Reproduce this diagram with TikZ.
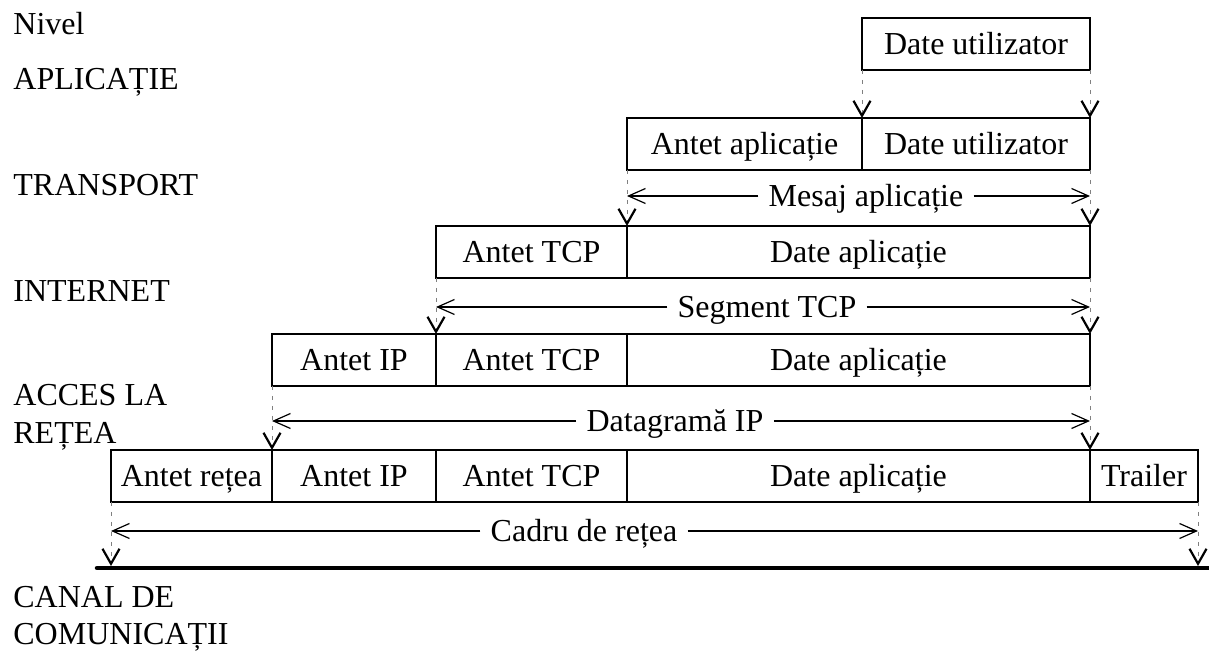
\documentclass[tikz,border=0pt]{standalone}
\usepackage{fontspec}
\setmainfont{Liberation Serif}
\usetikzlibrary{arrows.meta,positioning}

\begin{document}
\begin{tikzpicture}[x=0.5pt,y=-0.5pt,font=\fontsize{16pt}{19pt}\selectfont,
  cell/.style={draw,line width=0.65pt,minimum height=26pt,inner sep=0pt,outer sep=0pt,text height=10.6pt,text depth=0pt},
  thickcell/.style={cell,line width=1.25pt},
  lvltxt/.style={anchor=base west,inner sep=0pt},
  spanlbl/.style={inner xsep=5pt,inner ysep=0pt,text height=10.6pt,text depth=0pt},
  spanarrow/.style={line width=0.6pt,-{Straight Barb[length=8.5pt,width=7.5pt]}},
  guide/.style={gray,line width=0.4pt,dash pattern=on 2pt off 3pt,-{Straight Barb[color=black,line width=1.1pt,length=7.5pt,width=8.5pt]}}]
  \useasboundingbox (0,0) rectangle (1209,656);
  % level names
  \node[lvltxt] (nivel) at (13,35) {Nivel};
  \node[lvltxt] (aplic) at (13,90) {APLICAȚIE};
  \node[lvltxt] (transp) at (13,196) {TRANSPORT};
  \node[lvltxt] (inet) at (13,302) {INTERNET};
  \node[lvltxt] (acces) at (13,406) {ACCES LA};
  \node[lvltxt] (retea) at (13,444) {REȚEA};
  \node[lvltxt] (canal) at (13,608) {CANAL DE};
  \node[lvltxt] (comun) at (13,645) {COMUNICAȚII};
  % packets
  \node[thickcell,minimum width=114pt,anchor=north west] (usr) at (862,18) {Date utilizator};
  \node[cell,minimum width=117.5pt,anchor=north west] (apH) at (627,118) {Antet aplicație};
  \node[thickcell,minimum width=114pt,right=0pt of apH] (apD) {Date utilizator};
  \node[cell,minimum width=95.5pt,anchor=north west] (tcpH) at (436,226) {Antet TCP};
  \node[cell,minimum width=231.5pt,right=0pt of tcpH] (tcpD) {Date aplicație};
  \node[cell,minimum width=82pt,anchor=north west] (ipH) at (272,334) {Antet IP};
  \node[cell,minimum width=95.5pt,right=0pt of ipH] (ipTcp) {Antet TCP};
  \node[cell,minimum width=231.5pt,right=0pt of ipTcp] (ipD) {Date aplicație};
  \node[cell,minimum width=80.5pt,anchor=north west] (netH) at (111,450) {Antet rețea};
  \node[cell,minimum width=82pt,right=0pt of netH] (netIp) {Antet IP};
  \node[cell,minimum width=95.5pt,right=0pt of netIp] (netTcp) {Antet TCP};
  \node[cell,minimum width=231.5pt,right=0pt of netTcp] (netD) {Date aplicație};
  \node[cell,minimum width=54pt,right=0pt of netD] (netT) {Trailer};
  % channel
  \coordinate (chA) at (97,568);
  \coordinate (chB) at (1209,568);
  \coordinate (chL) at (111,566);
  \coordinate (chR) at (1198,566);
  \draw[line width=2.25pt,line cap=round] (chA) -- (chB);
  % spans
  \coordinate (ms1) at (627,196);  \coordinate (ms2) at (1090,196);
  \coordinate (sg1) at (436,307);  \coordinate (sg2) at (1090,307);
  \coordinate (dg1) at (272,421);  \coordinate (dg2) at (1090,421);
  \coordinate (cd1) at (111,531);  \coordinate (cd2) at (1198,531);
  \node[spanlbl] (mslbl) at (866,196) {Mesaj aplicație};
  \node[spanlbl] (sglbl) at (767,307) {Segment TCP};
  \node[spanlbl] (dglbl) at (675,421) {Datagramă IP};
  \node[spanlbl] (cdlbl) at (584,531) {Cadru de rețea};
  \foreach \l/\a/\b in {mslbl/ms1/ms2,sglbl/sg1/sg2,dglbl/dg1/dg2,cdlbl/cd1/cd2}{
    \draw[spanarrow] (\l.west) -- (\a);
    \draw[spanarrow] (\l.east) -- (\b);
  }
  % encapsulation guides
  \foreach \a/\b in {usr.south west/apD.north west,usr.south east/apD.north east,
      apH.south west/tcpD.north west,apD.south east/tcpD.north east,
      tcpH.south west/ipTcp.north west,tcpD.south east/ipD.north east,
      ipH.south west/netIp.north west,ipD.south east/netD.north east,
      netH.south west/chL,netT.south east/chR}
    \draw[guide] (\a) -- (\b);
\end{tikzpicture}
\end{document}
